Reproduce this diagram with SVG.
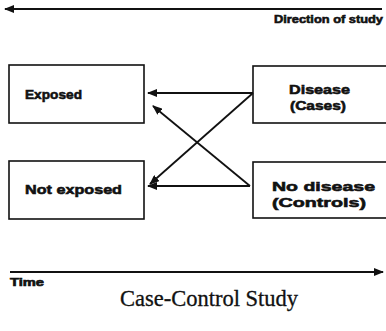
<svg xmlns="http://www.w3.org/2000/svg" width="386" height="331" viewBox="0 0 386 331">
<style>
.box{fill:#fff;stroke:#111;stroke-width:1.6}
.lbl{font-family:"Liberation Sans",Arial,sans-serif;font-weight:bold;fill:#111;stroke:#111;stroke-width:0.6}
.ln{stroke:#111;stroke-width:1.8;fill:none}
.title{font-family:"Liberation Serif","Times New Roman",serif;font-size:22.5px;fill:#111;stroke:#111;stroke-width:0.3}
</style>
<defs>
<marker id="ah" viewBox="0 0 10 8" refX="9" refY="4" markerWidth="10" markerHeight="8" markerUnits="userSpaceOnUse" orient="auto">
<path d="M0,0 L10,4 L0,8 Z" fill="#111"/>
</marker>
</defs>
<rect width="386" height="331" fill="#fff"/>
<g id="timeline-top">
<line class="ln" x1="382" y1="9" x2="5" y2="9" marker-end="url(#ah)"/>
<text class="lbl" x="383" y="23" font-size="11.5" text-anchor="end" textLength="109" lengthAdjust="spacingAndGlyphs">Direction of study</text>
</g>
<g id="exposed">
<rect class="box" x="9" y="65" width="135" height="58"/>
<text class="lbl" x="25" y="99" font-size="13.5" textLength="57" lengthAdjust="spacingAndGlyphs">Exposed</text>
</g>
<g id="disease">
<rect class="box" x="253" y="66" width="134" height="57"/>
<text class="lbl" x="319.5" y="94" font-size="13.5" text-anchor="middle" textLength="61" lengthAdjust="spacingAndGlyphs">Disease</text>
<text class="lbl" x="318" y="109.5" font-size="13.5" text-anchor="middle" textLength="56" lengthAdjust="spacingAndGlyphs">(Cases)</text>
</g>
<g id="not-exposed">
<rect class="box" x="9" y="161" width="135" height="58"/>
<text class="lbl" x="25" y="194" font-size="13.5" textLength="97" lengthAdjust="spacingAndGlyphs">Not exposed</text>
</g>
<g id="no-disease">
<rect class="box" x="253" y="162" width="134" height="56"/>
<text class="lbl" x="272" y="191" font-size="13.5" textLength="103" lengthAdjust="spacingAndGlyphs">No disease</text>
<text class="lbl" x="272" y="206.5" font-size="13.5" textLength="94" lengthAdjust="spacingAndGlyphs">(Controls)</text>
</g>
<g id="connectors">
<line class="ln" x1="253" y1="93" x2="148" y2="93" marker-end="url(#ah)"/>
<line class="ln" x1="250" y1="186" x2="148" y2="186" marker-end="url(#ah)"/>
<line class="ln" x1="253" y1="93" x2="150" y2="184" marker-end="url(#ah)"/>
<line class="ln" x1="250" y1="186" x2="153" y2="106" marker-end="url(#ah)"/>
</g>
<g id="timeline-bottom">
<line class="ln" x1="10" y1="272" x2="383" y2="272" marker-end="url(#ah)"/>
<text class="lbl" x="10" y="286" font-size="10" textLength="34" lengthAdjust="spacingAndGlyphs">Time</text>
</g>
<text class="title" x="209" y="306" text-anchor="middle">Case-Control Study</text>
</svg>
